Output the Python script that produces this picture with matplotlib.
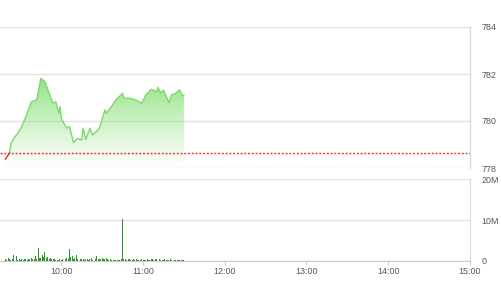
import matplotlib
matplotlib.use("Agg")
import matplotlib.pyplot as plt
import numpy as np
from matplotlib.ticker import FuncFormatter

plt.rcParams['font.family'] = ['Liberation Sans', 'DejaVu Sans']

# ---------------- data ----------------
price_times = ["9:19", "9:22", "9:23", "9:26", "9:28", "9:31", "9:35", "9:38", "9:42", "9:45",
               "9:48", "9:52", "9:54", "9:56", "9:58", "9:59", "10:00", "10:04", "10:06", "10:09",
               "10:12", "10:15", "10:16", "10:18", "10:21", "10:23", "10:28", "10:32", "10:33", "10:35",
               "10:40", "10:45", "10:46", "10:50", "10:55", "10:59", "11:02", "11:06", "11:10", "11:11",
               "11:13", "11:15", "11:19", "11:21", "11:24", "11:27", "11:29", "11:30"]
price_values = [778.38, 778.64, 779.05, 779.33, 779.48, 779.76, 780.33, 780.82, 780.90, 781.82,
                781.67, 781.03, 780.75, 780.82, 780.33, 780.61, 780.11, 779.69, 779.76, 779.08,
                779.26, 779.19, 779.69, 779.22, 779.69, 779.40, 779.69, 780.47, 780.33, 780.47,
                780.89, 781.18, 780.97, 780.97, 780.89, 780.75, 781.11, 781.35, 781.25, 781.43,
                781.18, 781.32, 780.78, 781.11, 781.18, 781.32, 781.06, 781.10]
reference_price = 778.64

volume_start = "9:19"
volume_millions = [
    0.4, 0.3, 0.8, 0.6, 0.3, 0.4, 1.4, 0.5, 1.2, 0.3,   # 9:19-9:28
    0.4, 0.3, 0.5, 0.3, 0.4, 0.6, 0.3, 0.5, 0.4, 0.8,   # 9:29-9:38
    0.4, 0.6, 1.2, 0.5, 3.1, 0.7, 0.8, 1.4, 0.9, 2.2,   # 9:39-9:48
    0.8, 1.0, 0.6, 0.8, 0.5, 0.6, 0.4, 0.3, 0.3, 0.2,   # 9:49-9:58
    0.4, 0.3, 0.6, 1.4, 0.5, 0.8, 0.6, 3.0, 0.9, 1.2,   # 9:59-10:08
    0.5, 0.7, 1.4, 0.6, 1.4, 0.5, 0.4, 0.6, 0.3, 0.4,   # 10:09-10:18
    0.5, 0.3, 0.4, 0.7, 0.3, 0.4, 0.5, 1.2, 0.5, 0.6,   # 10:19-10:28
    0.4, 0.8, 0.5, 0.6, 0.7, 0.4, 0.3, 0.4, 0.3, 0.3,   # 10:29-10:38
    0.2, 0.3, 0.3, 0.2, 0.3, 0.5, 10.3, 0.6, 0.4, 0.3,  # 10:39-10:48
    0.5, 0.4, 0.3, 0.2, 0.4, 0.3, 0.5, 0.3, 0.2, 0.3,   # 10:49-10:58
    0.4, 0.3, 0.2, 0.3, 0.4, 0.3, 0.3, 0.5, 0.4, 0.3,   # 10:59-11:08
    0.4, 0.5, 0.3, 0.4, 0.3, 0.2, 0.3, 0.4, 0.3, 0.2,   # 11:09-11:18
    0.3, 0.4, 0.3, 0.2, 0.3, 0.3, 0.2, 0.3, 0.2, 0.3,   # 11:19-11:28
    0.2, 0.2                                             # 11:29-11:30
]

x_tick_labels = ["10:00", "11:00", "12:00", "13:00", "14:00", "15:00"]
price_ticks = [778, 780, 782, 784]
volume_ticks = [0, 10, 20]

# ---------------- helpers ----------------
def to_min(s):
    h, m = s.split(":")
    return int(h) * 60 + int(m)

px = np.array([to_min(t) for t in price_times], dtype=float)
py = np.array(price_values)
vx = to_min(volume_start) + np.arange(len(volume_millions))
vy = np.array(volume_millions)
xt = [to_min(t) for t in x_tick_labels]

x_min, x_max = to_min("9:15"), to_min("15:00")

grid_c = "#e2e2e2"
spine_c = "#cfdde6"
text_c = "#555555"
fs = 6.4

fig = plt.figure(figsize=(5.01, 3.0), dpi=100)
ax1 = fig.add_axes([0.0, 0.44, 0.938, 0.47])
ax2 = fig.add_axes([0.0, 0.13, 0.938, 0.2733])

# ---------------- price panel ----------------
ax1.set_xlim(x_min, x_max)
ax1.set_ylim(778, 784)
for v in price_ticks:
    ax1.axhline(v, color=grid_c, lw=1.0, zorder=0)

poly = ax1.fill_between(px, py, 778, color="none", lw=0)
grad = np.linspace(0, 1, 256)
rgba = np.zeros((256, 1, 4))
rgba[..., 0] = 0.47
rgba[..., 1] = 0.86
rgba[..., 2] = 0.40
rgba[:, 0, 3] = 0.02 + 0.78 * grad ** 1.2
img = ax1.imshow(rgba, extent=[px.min(), px.max(), 778, py.max()], origin="lower",
                 aspect="auto", zorder=1, interpolation="bilinear")
img.set_clip_path(poly.get_paths()[0], transform=ax1.transData)

ax1.plot(px[1:], py[1:], color="#7fd86c", lw=1.0, zorder=3)
ax1.plot(px[:2], py[:2], color="#e03030", lw=1.0, zorder=3)
ax1.axhline(reference_price, color="#e53935", lw=1.0, ls=(0, (1.5, 1.2)), zorder=4)

ax1.yaxis.tick_right()
ax1.set_yticks(price_ticks)
ax1.set_yticklabels([str(v) for v in price_ticks])
ax1.set_xticks([])
for s in ["top", "left", "bottom"]:
    ax1.spines[s].set_visible(False)
ax1.spines["right"].set_color(spine_c)
ax1.spines["right"].set_linewidth(1.0)
ax1.tick_params(axis="y", length=0, pad=8.5, labelsize=fs, labelcolor=text_c)

# ---------------- volume panel ----------------
ax2.set_xlim(x_min, x_max)
ax2.set_ylim(0, 20)
for v in volume_ticks:
    ax2.axhline(v, color=grid_c, lw=1.0, zorder=0)
ax2.bar(vx, vy, width=0.7, color="#2a962a", zorder=2, align="center")

ax2.yaxis.tick_right()
ax2.set_yticks(volume_ticks)
ax2.yaxis.set_major_formatter(FuncFormatter(lambda v, p: "0" if v == 0 else f"{int(v)}M"))
ax2.set_xticks(xt)
ax2.set_xticklabels(x_tick_labels)
for s in ["top", "left"]:
    ax2.spines[s].set_visible(False)
ax2.spines["right"].set_color(spine_c)
ax2.spines["bottom"].set_color("#cccccc")
ax2.tick_params(axis="y", length=0, pad=8.5, labelsize=fs, labelcolor=text_c)
ax2.tick_params(axis="x", length=3, color="#cccccc", labelsize=fs, labelcolor=text_c, pad=1.5)

fig.savefig("out.png", dpi=100)
